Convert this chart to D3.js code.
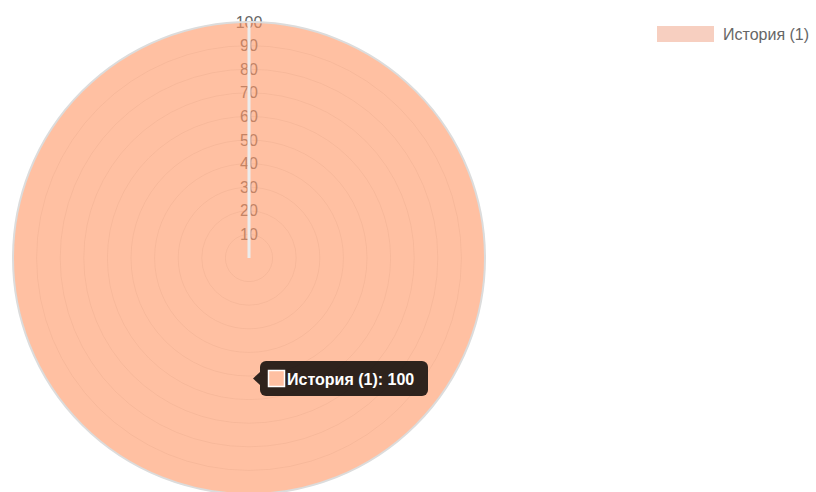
<!DOCTYPE html>
<html><head><meta charset="utf-8">
<script src="https://cdn.jsdelivr.net/npm/d3@7"></script>
<style>body{margin:0;background:#fff}svg{display:block;font-family:"Liberation Sans",Arial,sans-serif}</style>
</head><body><svg id="c" width="816" height="492"></svg>
<script>
const categories = ["История (1)"];
const values = [100];
const tickValues = [10,20,30,40,50,60,70,80,90,100];
const svg = d3.select("#c");
const cx = 249, cy = 258, R = 236;
const r = d3.scaleLinear().domain([0,100]).range([0,R]);
const g = svg.append("g").attr("transform",`translate(${cx},${cy})`);
// grid rings
g.selectAll("circle.grid").data(tickValues).join("circle")
  .attr("r", d=>r(d)).attr("fill","none").attr("stroke","rgba(0,0,0,0.08)").attr("stroke-width",1);
// tick labels
g.selectAll("text.tick").data(tickValues).join("text")
  .attr("x",0).attr("y",d=>-r(d)).attr("dy","0.35em").attr("text-anchor","middle")
  .attr("font-size",16).attr("fill","#666").text(d=>d);
// slices
const pie = d3.pie().sort(null).value(()=>1);
const arc = d3.arc().innerRadius(0).outerRadius(d=>r(d.data));
g.selectAll("path.slice").data(pie(values)).join("path")
  .attr("d", arc).attr("fill","rgba(255,150,100,0.6)");
// outer edge
g.append("circle").attr("r", r(100)).attr("fill","none").attr("stroke","#dcdcdc").attr("stroke-width",2);
// slice border radial edge
g.append("line").attr("x1",0).attr("y1",0).attr("x2",0).attr("y2",-r(values[0]))
  .attr("stroke","#ececec").attr("stroke-width",3);
// legend
const lg = svg.append("g");
lg.append("rect").attr("x",657).attr("y",26).attr("width",57).attr("height",16).attr("fill","rgb(247,207,192)");
lg.append("text").attr("x",723).attr("y",40).attr("font-size",16).attr("fill","#666").text(categories[0]);
// tooltip
const tt = svg.append("g").attr("transform","translate(260,361)");
tt.append("rect").attr("width",168).attr("height",35).attr("rx",6).attr("fill","rgba(0,0,0,0.82)");
tt.append("path").attr("d","M0,11 L-7,17.5 L0,24 Z").attr("fill","rgba(0,0,0,0.82)");
tt.append("rect").attr("x",8.5).attr("y",9.5).attr("width",16).attr("height",16).attr("fill","rgb(255,192,162)").attr("stroke","#fff").attr("stroke-width",1.5);
tt.append("text").attr("x",27).attr("y",23.5).attr("font-size",16).attr("font-weight","bold").attr("fill","#fff")
  .text(categories[0] + ": " + values[0]);
</script></body></html>
